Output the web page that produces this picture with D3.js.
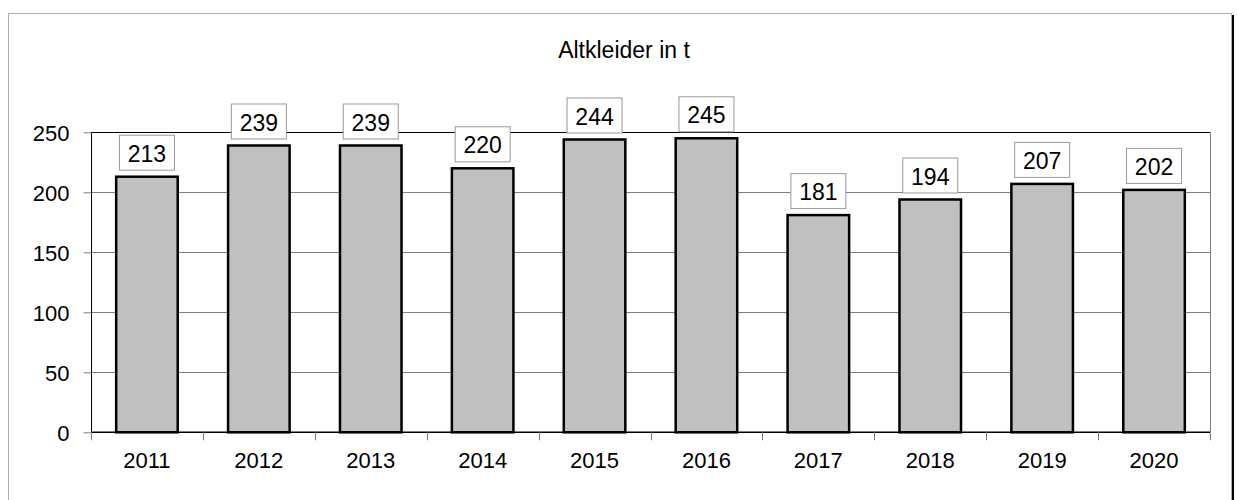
<!DOCTYPE html>
<html><head><meta charset="utf-8">
<script src="https://cdn.jsdelivr.net/npm/d3@7"></script>
<style>body{margin:0;background:#fff}svg{display:block;font-family:"Liberation Sans",Arial,sans-serif}</style>
</head><body><svg id="c" width="1237" height="500"></svg>
<script>
const categories = ["2011","2012","2013","2014","2015","2016","2017","2018","2019","2020"];
const values = [213,239,239,220,244,245,181,194,207,202];
const yTicks = [0,50,100,150,200,250];
const title = "Altkleider in t";

const svg = d3.select("#c");
const L=91, R=1210, T=132.3, B=432.3;
const x = d3.scaleBand().domain(categories).range([L,R]).paddingInner(0.45).paddingOuter(0.225);
const xb = d3.scaleBand().domain(categories).range([L,R]);
const y = d3.scaleLinear().domain([0,250]).range([B,T]);

// outer frame + shadow
svg.append("line").attr("x1",1233).attr("x2",1233).attr("y1",15).attr("y2",500).attr("stroke","#000").attr("stroke-width",2);
svg.append("rect").attr("x",8.5).attr("y",13.5).attr("width",1223).attr("height",500).attr("fill","#fff").attr("stroke","#b0b0b0").attr("stroke-width",1);

// title
svg.append("text").attr("x",624).attr("y",57.5).attr("text-anchor","middle").attr("font-size",23).text(title);

// gridlines
svg.append("g").selectAll("line").data(yTicks.filter(d=>d>0&&d<250)).join("line")
  .attr("x1",L).attr("x2",R).attr("y1",d=>Math.round(y(d))+0.5).attr("y2",d=>Math.round(y(d))+0.5)
  .attr("stroke","#808080").attr("stroke-width",1);
// top border black, right border gray
svg.append("line").attr("x1",L).attr("x2",R).attr("y1",132.5).attr("y2",132.5).attr("stroke","#000");
svg.append("line").attr("x1",R+0.5).attr("x2",R+0.5).attr("y1",132).attr("y2",B).attr("stroke","#808080");

// y axis
const ya = svg.append("g").attr("transform",`translate(${L+0.5},0)`)
  .call(d3.axisLeft(y).tickValues(yTicks).tickSize(8).tickPadding(14));
ya.select(".domain").attr("stroke","#000").attr("d",`M0,${T}V${B}`);
ya.selectAll(".tick line").attr("stroke","#808080");
ya.selectAll(".tick text").attr("font-size",22).attr("font-family","Liberation Sans, Arial, sans-serif").attr("fill","#000").attr("dy","0.38em");

// bars
svg.append("g").selectAll("rect").data(values).join("rect")
  .attr("x",(d,i)=>x(categories[i])).attr("width",x.bandwidth())
  .attr("y",d=>y(d)).attr("height",d=>B-y(d))
  .attr("fill","#c0c0c0").attr("stroke","#000").attr("stroke-width",2.5);

// x axis
svg.append("line").attr("x1",L).attr("x2",R).attr("y1",B).attr("y2",B).attr("stroke","#000").attr("stroke-width",1.5);
const bounds = categories.map(c=>xb(c)).concat([R]);
svg.append("g").selectAll("line").data(bounds).join("line")
  .attr("x1",d=>Math.round(d)+0.5).attr("x2",d=>Math.round(d)+0.5).attr("y1",B).attr("y2",B+8).attr("stroke","#808080");
svg.append("g").selectAll("text").data(categories).join("text")
  .attr("x",d=>xb(d)+xb.bandwidth()/2).attr("y",467.5).attr("text-anchor","middle").attr("font-size",22).text(d=>d);

// data labels
const lg = svg.append("g").selectAll("g").data(values).join("g")
  .attr("transform",(d,i)=>`translate(${x(categories[i])+x.bandwidth()/2},${y(d)-6.5})`);
lg.append("rect").attr("x",-27.5).attr("y",-35).attr("width",55).attr("height",35)
  .attr("fill","#fff").attr("stroke","#999").attr("stroke-width",1);
lg.append("text").attr("x",0).attr("y",-8.5).attr("text-anchor","middle").attr("font-size",23).text(d=>d);
</script></body></html>
